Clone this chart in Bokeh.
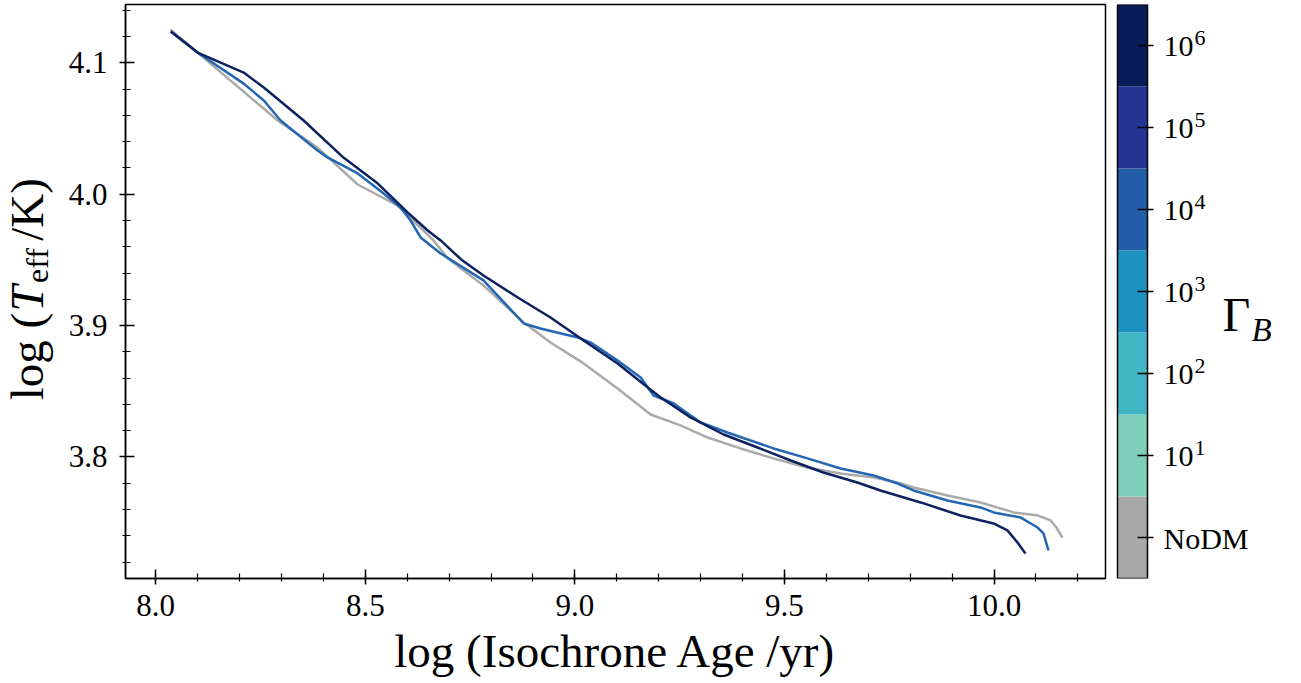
import numpy as np
from bokeh.plotting import figure
from bokeh.layouts import row
from bokeh.models import Range1d, FixedTicker, PrintfTickFormatter
from bokeh.core.properties import value
from bokeh.embed import file_html
from bokeh.resources import INLINE

# ---------------- data ----------------
nodm_age = [8.036, 8.100, 8.291, 8.386, 8.482, 8.577, 8.663, 8.697, 8.782, 8.878,
            8.942, 9.021, 9.102, 9.181, 9.252, 9.317, 9.395, 9.474, 9.555, 9.634,
            9.713, 9.770, 9.808, 9.889, 9.968, 10.047, 10.104, 10.135, 10.149, 10.163]
nodm_teff = [4.1253, 4.1078, 4.0561, 4.0355, 4.0074, 3.9914, 3.9648, 3.9511, 3.9305, 3.9024,
             3.8871, 3.8712, 3.8521, 3.8323, 3.8240, 3.8148, 3.8065, 3.7989, 3.7920, 3.7874,
             3.7844, 3.7806, 3.7768, 3.7707, 3.7654, 3.7578, 3.7555, 3.7517, 3.7463, 3.7387]

g4_age = [8.036, 8.100, 8.210, 8.258, 8.298, 8.386, 8.410, 8.482, 8.544, 8.584,
          8.608, 8.632, 8.680, 8.782, 8.878, 8.918, 9.007, 9.038, 9.102, 9.157,
          9.188, 9.236, 9.300, 9.364, 9.474, 9.555, 9.634, 9.713, 9.770, 9.808,
          9.889, 9.968, 9.999, 10.063, 10.104, 10.118, 10.130]
g4_teff = [4.1238, 4.1078, 4.0842, 4.0713, 4.0561, 4.0333, 4.0280, 4.0158, 4.0005, 3.9899,
           3.9800, 3.9671, 3.9549, 3.9344, 3.9016, 3.8978, 3.8910, 3.8871, 3.8734, 3.8605,
           3.8468, 3.8407, 3.8263, 3.8186, 3.8065, 3.7989, 3.7912, 3.7859, 3.7798, 3.7745,
           3.7669, 3.7616, 3.7578, 3.7540, 3.7463, 3.7418, 3.7288]

g6_age = [8.036, 8.100, 8.210, 8.258, 8.353, 8.448, 8.530, 8.601, 8.649, 8.680,
          8.711, 8.732, 8.782, 8.864, 8.942, 9.021, 9.102, 9.174, 9.205, 9.276,
          9.355, 9.436, 9.515, 9.593, 9.674, 9.729, 9.825, 9.920, 9.999, 10.032,
          10.056, 10.075]
g6_teff = [4.1238, 4.1078, 4.0926, 4.0812, 4.0561, 4.0279, 4.0081, 3.9861, 3.9724, 3.9648,
           3.9556, 3.9495, 3.9381, 3.9214, 3.9062, 3.8887, 3.8712, 3.8529, 3.8453, 3.8301,
           3.8171, 3.8072, 3.7973, 3.7882, 3.7806, 3.7745, 3.7654, 3.7555, 3.7494, 3.7441,
           3.7349, 3.7266]

x_ticks = [8.0, 8.5, 9.0, 9.5, 10.0]
y_ticks = [3.8, 3.9, 4.0, 4.1]

cb_base = ["NoDM", "10", "10", "10", "10", "10", "10"]
cb_exp = ["", "1", "2", "3", "4", "5", "6"]
cb_colors = ["#a9a9a9", "#7fcdbb", "#41b6c4", "#1d91c0", "#225ea8", "#253494", "#081d58"]

FONT = "Liberation Serif"
H = 683
FTOP, FBOT = 4, 578          # frame top / bottom in page pixels (shared by the row)

# ---------------- y-axis title (own narrow panel) ----------------
LW = 64
yl = figure(width=LW, height=H, output_backend="svg", toolbar_location=None,
            x_range=Range1d(0, LW), y_range=Range1d(H - FBOT, H - FTOP),
            x_axis_location=None, y_axis_location=None,
            min_border_left=0, min_border_right=0, min_border_top=FTOP, min_border_bottom=H - FBOT)
yl.grid.visible = False
yl.outline_line_color = None
ang = np.pi / 2
kw = dict(angle=ang, text_align="center", text_baseline="middle", text_color="black",
          text_font=value(FONT))
yl.text(x=[26], y=[H - 356], text=["log ("], text_font_size=value("47px"), **kw)
yl.text(x=[26], y=[H - 298], text=["T"], text_font_size=value("47px"),
        text_font_style="italic", **kw)
yl.text(x=[36], y=[H - 265], text=["eff"], text_font_size=value("32px"), **kw)
yl.text(x=[26], y=[H - 209], text=["/K)"], text_font_size=value("47px"), **kw)

# ---------------- main plot ----------------
p = figure(width=1110 - LW, height=H, output_backend="svg", toolbar_location=None,
           x_range=Range1d(7.928, 10.266), y_range=Range1d(3.7075, 4.1444),
           min_border_left=125 - LW, min_border_right=5, min_border_top=FTOP,
           min_border_bottom=H - FBOT)
p.grid.visible = False
p.outline_line_color = "black"
p.outline_line_width = 1.5

p.line(nodm_age, nodm_teff, line_color="#aaaaaa", line_width=2.5, line_join="round")
p.line(g4_age, g4_teff, line_color="#2366b2", line_width=2.5, line_join="round")
p.line(g6_age, g6_teff, line_color="#0c2160", line_width=2.5, line_join="round")

p.xaxis.ticker = FixedTicker(ticks=x_ticks, minor_ticks=list(np.round(np.arange(7.9, 10.31, 0.1), 2)))
p.yaxis.ticker = FixedTicker(ticks=y_ticks, minor_ticks=list(np.round(np.arange(3.70, 4.15, 0.02), 2)))
for ax in (p.xaxis[0], p.yaxis[0]):
    ax.formatter = PrintfTickFormatter(format="%.1f")
    ax.major_label_text_font = FONT
    ax.major_label_text_font_size = "31px"
    ax.major_label_text_color = "black"
    ax.axis_line_color = "black"
    ax.axis_line_width = 1.5
    ax.major_tick_line_color = "black"
    ax.minor_tick_line_color = "black"
    ax.major_tick_line_width = 1.5
    ax.minor_tick_line_width = 1.2
    ax.major_tick_in = 9
    ax.major_tick_out = 6
    ax.minor_tick_in = 5
    ax.minor_tick_out = 3
p.xaxis.major_label_standoff = 10
p.yaxis.major_label_standoff = 12
p.xaxis.axis_label = "log (Isochrone Age /yr)"
p.xaxis.axis_label_text_font = FONT
p.xaxis.axis_label_text_font_size = "47px"
p.xaxis.axis_label_text_font_style = "normal"
p.xaxis.axis_label_text_color = "black"
p.xaxis.axis_label_standoff = 6

# ---------------- colour bar (own panel, pixel-like x units) ----------------
CW = 1301 - 1110
n = len(cb_base)
per_px = n / float(FBOT - FTOP)
cb = figure(width=CW, height=H, output_backend="svg", toolbar_location=None,
            x_range=Range1d(0, CW), y_range=Range1d(-0.5, n - 0.5),
            x_axis_location=None, y_axis_location=None,
            min_border_left=0, min_border_right=0, min_border_top=FTOP, min_border_bottom=H - FBOT)
cb.grid.visible = False
cb.outline_line_color = None
idx = np.arange(n)
cb.quad(left=7, right=37, bottom=idx - 0.5, top=idx + 0.5, fill_color=cb_colors, line_color=None)
cb.quad(left=[7], right=[37], bottom=[-0.5], top=[n - 0.5], fill_color=None,
        line_color="black", line_width=1.5)
cb.segment(x0=27, x1=43, y0=idx, y1=idx, line_color="black", line_width=1.5)
cb.text(x=53, y=idx - 1 * per_px, text=cb_base, text_font=value(FONT),
        text_font_size=value("30px"), text_align="left", text_baseline="middle", text_color="black")
cb.text(x=84, y=idx + 7.5 * per_px, text=cb_exp, text_font=value(FONT),
        text_font_size=value("22px"), text_align="left", text_baseline="middle",
        text_color="black")
cb.text(x=[112], y=[n - 0.5 - (314 - FTOP) * per_px], text=["\u0393"], text_font=value(FONT),
        text_font_size=value("48px"), text_align="left", text_baseline="middle",
        text_color="black")
cb.text(x=[141], y=[n - 0.5 - (329 - FTOP) * per_px], text=["B"], text_font=value(FONT),
        text_font_size=value("33px"), text_font_style="italic", text_align="left",
        text_baseline="middle", text_color="black")

layout = row(yl, p, cb, spacing=0)
open("out.html", "w").write(file_html(layout, INLINE))
